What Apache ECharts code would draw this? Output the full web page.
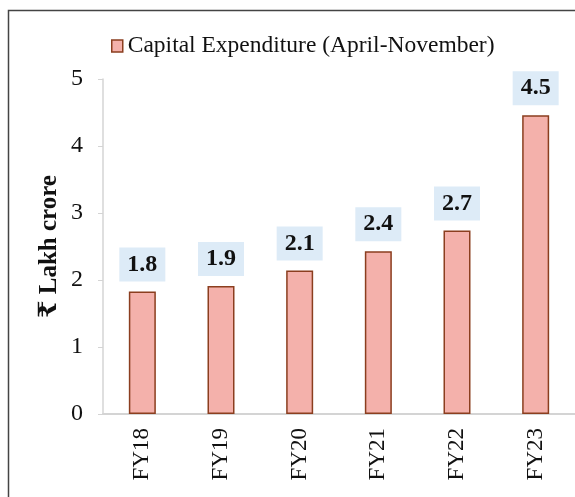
<!DOCTYPE html>
<html>
<head>
<meta charset="utf-8">
<script src="https://cdn.jsdelivr.net/npm/echarts@6/dist/echarts.min.js"></script>
<style>
  html, body { margin: 0; padding: 0; background: #fff; }
  #main { width: 575px; height: 497px; }
</style>
</head>
<body>
<div id="main"></div>
<script>
// 数据
var categories = ['FY18', 'FY19', 'FY20', 'FY21', 'FY22', 'FY23'];
var capex = [1.83, 1.91, 2.14, 2.43, 2.74, 4.46];
var seriesName = 'Capital Expenditure (April-November)';
var yName = '₹ Lakh crore';

var serif = '"Liberation Serif", "DejaVu Serif", serif';

var myChart = echarts.init(document.getElementById('main'));
var option = {
  animation: false,
  textStyle: { fontFamily: serif },
  // 外框（右侧和底部被裁掉）
  graphic: [{
    type: 'rect',
    shape: { x: 8.5, y: 10.5, width: 700, height: 700 },
    style: { fill: 'none', stroke: '#444', lineWidth: 1.5 },
    silent: true
  }],
  legend: {
    data: [seriesName],
    left: 111,
    top: 34,
    padding: 0,
    icon: 'rect',
    itemWidth: 11,
    itemHeight: 12,
    itemStyle: { borderWidth: 1.5 },
    textStyle: { fontFamily: serif, fontSize: 23.5, color: '#111' }
  },
  grid: {
    left: 103,
    top: 79,
    bottom: 83,
    width: 478
  },
  xAxis: {
    type: 'category',
    data: categories,
    axisLine: { lineStyle: { color: '#d4d4d4', width: 2 } },
    axisTick: { show: false },
    axisLabel: {
      rotate: 90,
      margin: 14,
      fontFamily: serif,
      fontSize: 23,
      color: '#111'
    }
  },
  yAxis: {
    type: 'value',
    min: 0,
    max: 5,
    interval: 1,
    name: yName,
    nameLocation: 'middle',
    nameGap: 41,
    nameMoveOverlap: false,
    nameTextStyle: { fontFamily: serif, fontSize: 25, fontWeight: 'bold', color: '#111' },
    axisLine: { show: true, lineStyle: { color: '#d4d4d4', width: 1.5 } },
    axisTick: { show: true, length: 5, lineStyle: { color: '#d4d4d4' } },
    splitLine: { show: false },
    axisLabel: { margin: 20, fontFamily: serif, fontSize: 24, color: '#111' }
  },
  series: [{
    name: seriesName,
    type: 'bar',
    data: capex,
    barWidth: 27,
    itemStyle: { color: '#F4B1AB', borderColor: '#8B3E1F', borderWidth: 1.5 },
    label: {
      show: true,
      position: 'top',
      distance: 10,
      formatter: function (p) { return p.value.toFixed(1); },
      backgroundColor: '#DDEBF7',
      padding: [5, 8, 5, 8],
      fontFamily: serif,
      fontSize: 24,
      fontWeight: 'bold',
      color: '#111'
    }
  }]
};
myChart.setOption(option);
</script>
</body>
</html>
